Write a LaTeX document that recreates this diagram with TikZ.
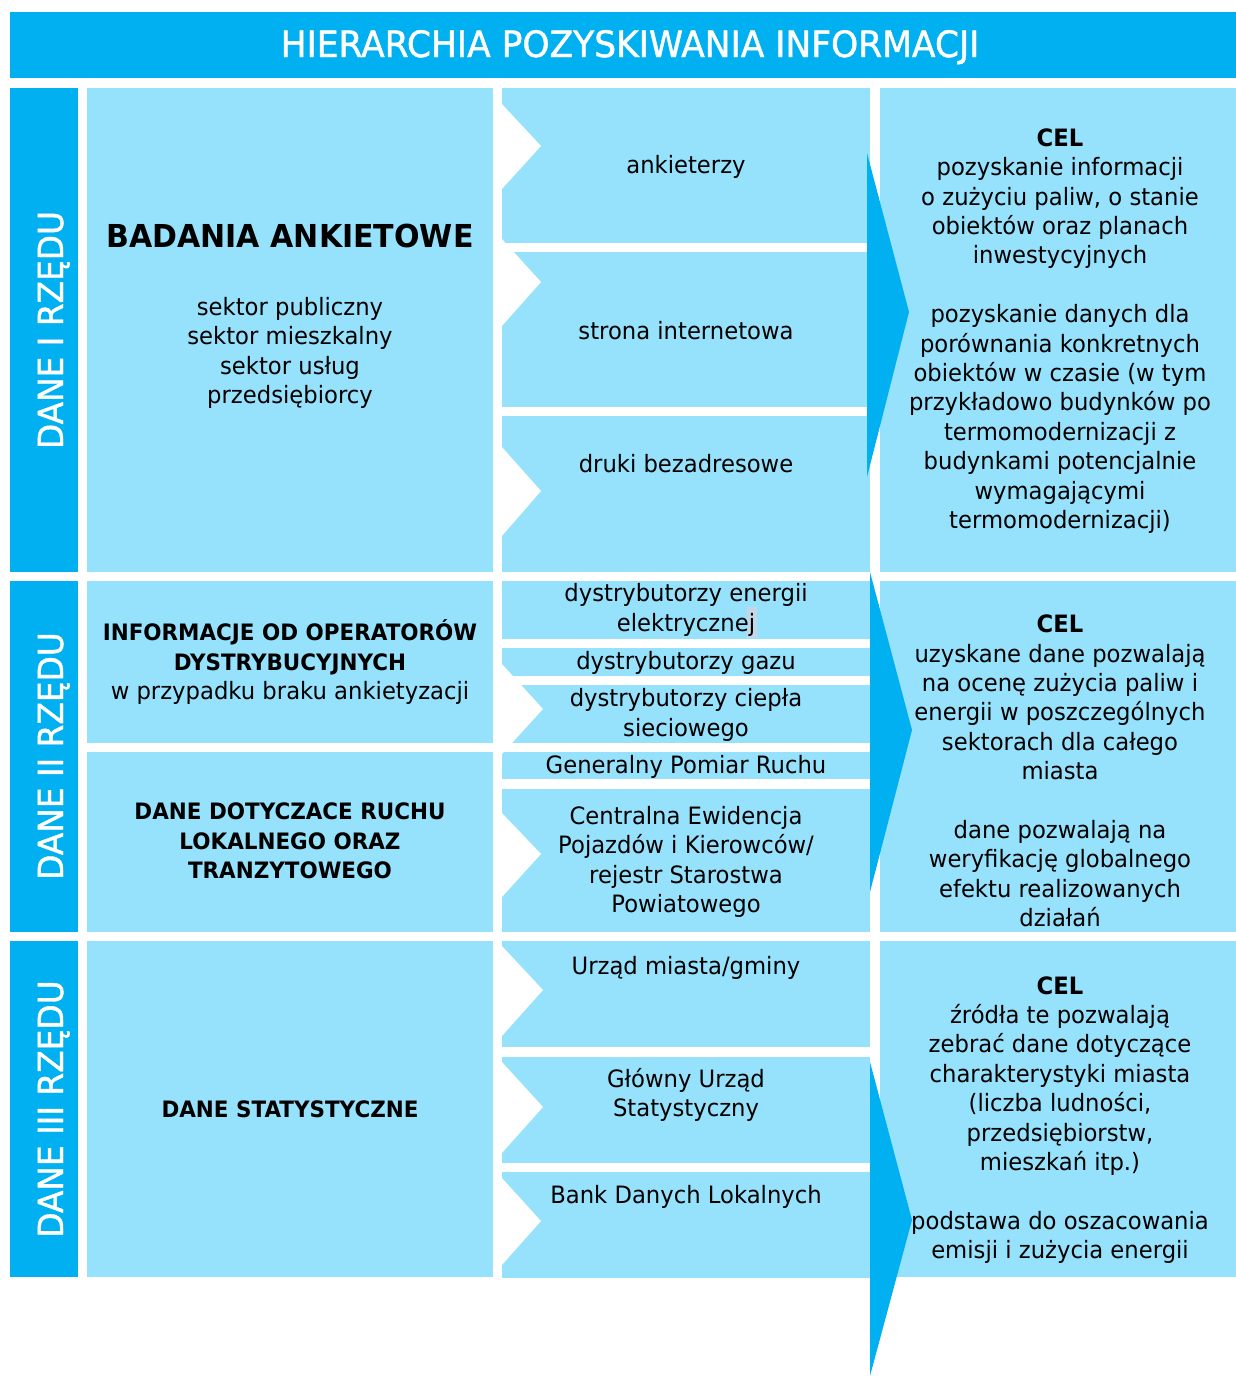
\documentclass[tikz,border=0pt]{standalone}
\usepackage{fontspec}
\setmainfont{DejaVu Sans}[FakeStretch=0.95]
\newfontfamily\grubsza{DejaVu Sans}[FakeStretch=0.95,FakeBold=1.2]
\usepackage{xcolor}

\definecolor{ciemny}{RGB}{0,176,240}
\definecolor{jasny}{RGB}{150,226,252}
\definecolor{zaznacz}{RGB}{196,214,232}

\newcommand{\txtnorm}{\fontsize{23.9}{29.4}\selectfont}
\newcommand{\txtnagl}{\bfseries\fontsize{22.6}{29.4}\selectfont}
\newcommand{\txttyt}{\grubsza\fontsize{36.3}{42}\selectfont}
\newcommand{\txtrzad}{\grubsza\fontsize{34.5}{40}\selectfont}

\begin{document}
\begin{tikzpicture}[x=1pt,y=-1pt,line join=miter,
  every node/.style={font=\txtnorm,align=center,inner sep=0pt},
  pole/.style={fill=jasny},
  belka/.style={fill=ciemny},
  rzad/.style={rotate=90,anchor=base,text=white,font=\txtrzad}]
\useasboundingbox (0,0) rectangle (1236,1376);
%
% naglowek
\fill[belka] (10,12) rectangle (1236,78);
\node[anchor=base,text=white,font=\txttyt] (tytul) at (630,57) {HIERARCHIA POZYSKIWANIA INFORMACJI};
%
% paski z lewej
\fill[belka] (10,88) rectangle (78,572);
\fill[belka] (10,581) rectangle (78,932);
\fill[belka] (10,941) rectangle (78,1277);
\node[rzad] (rzad1) at (63,330) {DANE I RZĘDU};
\node[rzad] (rzad2) at (63,756) {DANE II RZĘDU};
\node[rzad] (rzad3) at (63,1109) {DANE III RZĘDU};
%
% zrodla
\fill[pole] (87,88) rectangle (493,572);
\fill[pole] (87,581) rectangle (493,743);
\fill[pole] (87,752) rectangle (493,932);
\fill[pole] (87,941) rectangle (493,1277);
%
% kanaly
\foreach \g/\d in {88/243,252/407,416/572,581/639,648/676,685/743,752/779,789/932,941/1047,1057/1163,1172/1278}
  \fill[pole] (502,\g) rectangle (870,\d);
% wciecia strzalek
\foreach \g/\s/\d/\w in {103/146/190/541,238/282/327/541,446/491/537/541,663/709/755/543,812/854/898/541,945/990/1037/543,1061/1107/1154/543,1177/1221/1266/541}
  \fill[white] (501,\g) -- (\w,\s) -- (501,\d) -- cycle;
\fill[zaznacz] (747,607) rectangle (757,638);
%
% cele
\fill[pole] (880,88) rectangle (1236,572);
\fill[pole] (880,581) rectangle (1236,932);
\fill[pole] (880,941) rectangle (1236,1277);
\foreach \x/\g/\s/\d in {867/153/312/477,870/572/730/892,870/1062/1220/1376}
  \fill[belka] (\x,\g) -- (\x+42,\s) -- (\x,\d) -- cycle;
%
% teksty - kolumna 2
\node[anchor=base,font=\bfseries\fontsize{31.6}{38}\selectfont] (badania) at (290,247) {BADANIA ANKIETOWE};
\node (sektory) at (290,353) {sektor publiczny\\sektor mieszkalny\\sektor usług\\przedsiębiorcy};
\node (operatorzy) at (290,662) {{\txtnagl INFORMACJE OD OPERATORÓW}\\{\txtnagl DYSTRYBUCYJNYCH}\\w przypadku braku ankietyzacji};
\node[font=\txtnagl] (ruch) at (290,841) {DANE DOTYCZACE RUCHU\\LOKALNEGO ORAZ\\TRANZYTOWEGO};
\node[font=\txtnagl] (statystyka) at (290,1109) {DANE STATYSTYCZNE};
%
% teksty - kolumna 3
\node (ankieterzy) at (686,167) {ankieterzy};
\node (strona) at (686,331) {strona internetowa};
\node (druki) at (686,464) {druki bezadresowe};
\node (energia) at (686,610) {dystrybutorzy energii\\elektrycznej};
\node (gaz) at (686,663) {dystrybutorzy gazu};
\node (cieplo) at (686,715) {dystrybutorzy ciepła\\sieciowego};
\node (pomiar) at (686,767) {Generalny Pomiar Ruchu};
\node (cepik) at (686,862) {Centralna Ewidencja\\Pojazdów i Kierowców/\\rejestr Starostwa\\Powiatowego};
\node (urzad) at (686,968) {Urząd miasta/gminy};
\node (gus) at (686,1095) {Główny Urząd\\Statystyczny};
\node (bdl) at (686,1197) {Bank Danych Lokalnych};
%
% teksty - kolumna 4
\node (cel1) at (1060,331) {\textbf{CEL}\\pozyskanie informacji\\o zużyciu paliw, o stanie\\obiektów oraz planach\\inwestycyjnych\\[29.4pt]pozyskanie danych dla\\porównania konkretnych\\obiektów w czasie (w tym\\przykładowo budynków po\\termomodernizacji z\\budynkami potencjalnie\\wymagającymi\\termomodernizacji)};
\node (cel2) at (1060,771) {\textbf{CEL}\\uzyskane dane pozwalają\\na ocenę zużycia paliw i\\energii w poszczególnych\\sektorach dla całego\\miasta\\[29.4pt]dane pozwalają na\\weryfikację globalnego\\efektu realizowanych\\działań};
\node (cel3) at (1060,1120) {\textbf{CEL}\\źródła te pozwalają\\zebrać dane dotyczące\\charakterystyki miasta\\(liczba ludności,\\przedsiębiorstw,\\mieszkań itp.)\\[29.4pt]podstawa do oszacowania\\emisji i zużycia energii};
\end{tikzpicture}
\end{document}
